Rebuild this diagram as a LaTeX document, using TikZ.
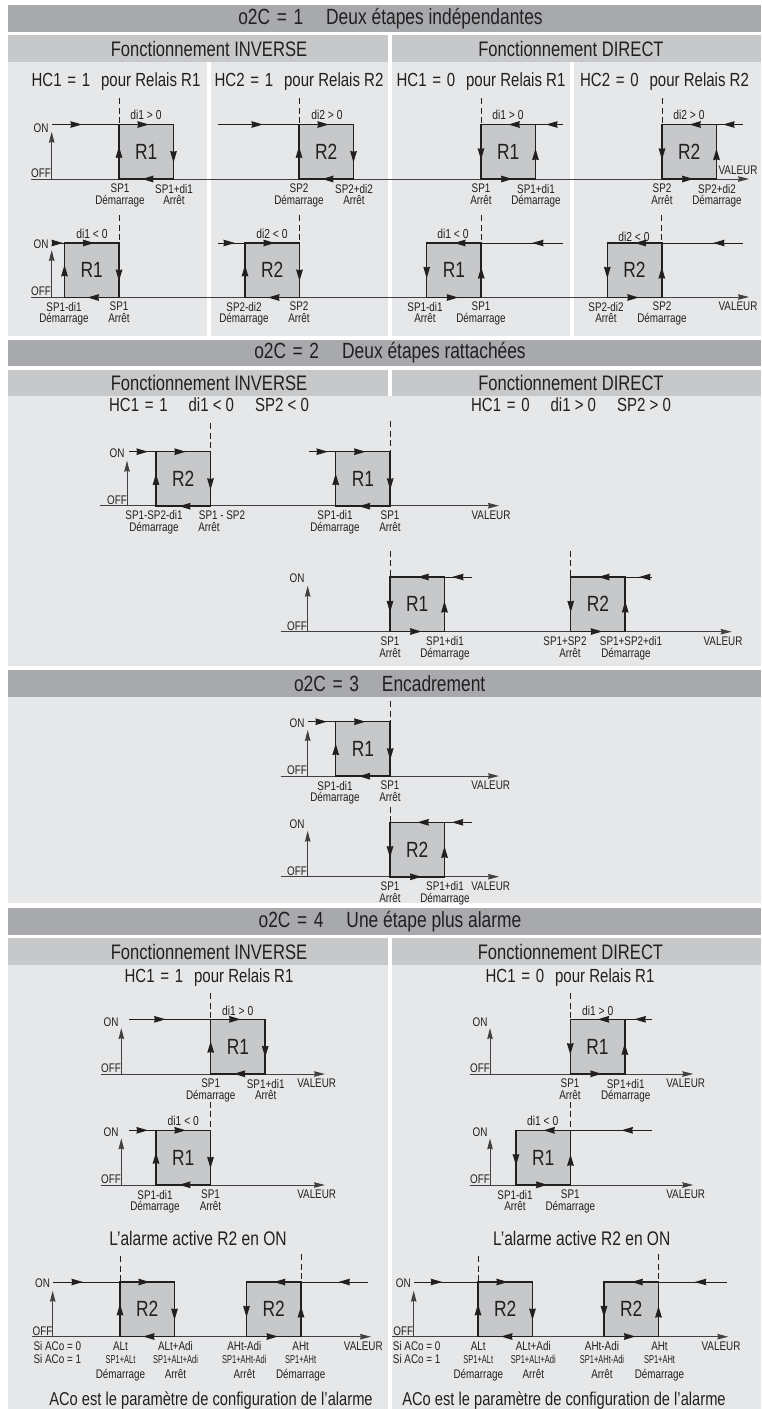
\documentclass[tikz,border=0pt]{standalone}
\usepackage{fontspec}
\setmainfont[FakeStretch=0.79]{Liberation Sans}
\newfontfamily\narrowfont[FakeStretch=0.65]{Liberation Sans}
\usetikzlibrary{arrows.meta,decorations.markings}
\definecolor{ink}{HTML}{231F20}
\definecolor{bandgrey}{HTML}{A7A9AC}
\definecolor{headgrey}{HTML}{C7C8CA}
\definecolor{panelgrey}{HTML}{E6E7E8}
\definecolor{axisgrey}{HTML}{414042}
\tikzset{
  band/.style={fill=bandgrey},
  head/.style={fill=headgrey},
  panel/.style={fill=panelgrey},
  titletext/.style={text=ink,inner sep=0pt,font=\fontsize{22}{24}\selectfont},
  bigtext/.style={text=ink,inner sep=0pt,font=\fontsize{21}{23}\selectfont},
  hctext/.style={text=ink,inner sep=0pt,font=\fontsize{19}{21}\selectfont},
  alarmtext/.style={text=ink,inner sep=0pt,font=\fontsize{19.7}{21}\selectfont},
  acotext/.style={text=ink,inner sep=0pt,font=\fontsize{18.6}{21}\selectfont},
  relay/.style={draw=ink,fill=headgrey,line width=1.5pt,minimum size=54.5pt,inner sep=0pt,outer sep=0pt,text=ink,font=\fontsize{22}{24}\selectfont},
  mid/.style={postaction={decorate,decoration={markings,mark=at position #1 with {\arrow{Stealth[length=11.5pt,width=6.5pt,inset=.6pt]}}}}},
  loopedge/.style={draw=ink,line width=1.5pt},
  leadin/.style={draw=ink,line width=1pt},
  guide/.style={draw=ink,line width=1pt,dash pattern=on 6pt off 3.5pt},
  axisline/.style={draw=axisgrey,line width=1pt,-{Stealth[length=11pt,width=5.5pt,inset=1pt]}},
  tick/.style={text=ink,anchor=north,align=center,inner sep=0pt,font=\fontsize{12.5}{11.7}\selectfont},
  tickb/.style={text=ink,anchor=base,inner sep=0pt,font=\fontsize{12.5}{11.7}\selectfont},
  ticksmall/.style={text=ink,anchor=base,inner sep=0pt,font=\narrowfont\fontsize{11.5}{11.7}\selectfont},
  dilabel/.style={text=ink,inner sep=0pt,font=\fontsize{13}{15}\selectfont},
}
\newcommand{\eqs}{\hspace{.3em}=\hspace{.3em}}
\newcommand{\onoff}[8]{%
  \coordinate (#1a) at (#2,#4);
  \coordinate (#1b) at (#3,#4);
  \draw[axisline] (#1a) -- (#1b);
  \coordinate (#1o) at (#5,#4);
  \coordinate (#1t) at (#5,#6);
  \draw[axisline] (#1o) -- (#1t);
  \node[tick,anchor=center] (#1on) at (#7,#8) {ON};
  \node[tick,anchor=center] (#1off) at (#7,#4-5.5) {OFF};
}
\newcommand{\relayinv}[8]{%
  \node[relay] (#1) at (#2+27.25,#3+27.25) {#4};
  \draw[loopedge,mid=.6] (#1.south west) -- (#1.north west);
  \draw[loopedge,mid=.55] (#1.north west) -- (#1.north east);
  \draw[loopedge,mid=.7] (#1.north east) -- (#1.south east);
  \draw[loopedge,mid=.58] (#1.south east) -- (#1.south west);
  \coordinate (#1in) at (#5,#3);
  \draw[leadin,mid=#6pt] (#1in) -- (#1.north west);
  \coordinate (#1y) at (0,#8);
  \coordinate (#1g) at (#1.#7 |- #1y);
  \draw[guide] (#1g) -- (#1.#7);
}
\newcommand{\relaydir}[8]{%
  \node[relay] (#1) at (#2+27.25,#3+27.25) {#4};
  \draw[loopedge,mid=.65] (#1.north west) -- (#1.south west);
  \draw[loopedge,mid=.58] (#1.south west) -- (#1.south east);
  \draw[loopedge,mid=.56] (#1.south east) -- (#1.north east);
  \draw[loopedge,mid=.5] (#1.north east) -- (#1.north west);
  \coordinate (#1in) at (#5,#3);
  \draw[leadin,mid=#6pt] (#1in) -- (#1.north east);
  \coordinate (#1y) at (0,#8);
  \coordinate (#1g) at (#1.#7 |- #1y);
  \draw[guide] (#1g) -- (#1.#7);
}
\newcommand{\alarmtick}[5]{%
  \node[tickb] (#1a) at (#2,1350) {#3};
  \node[ticksmall] (#1b) at (#2,1363.5) {#4};
  \node[tickb] (#1c) at (#2,1378) {#5};
}

\begin{document}
\begin{tikzpicture}[x=1pt,y=-1pt]
  \useasboundingbox (0,0) rectangle (761,1409);
  \fill[band] (8,5) rectangle (761,32);
  \fill[head] (8,35) rectangle (388,62);
  \fill[head] (392,35) rectangle (761,62);
  \fill[panel] (8,62) rectangle (207,336);
  \fill[panel] (211,62) rectangle (388,336);
  \fill[panel] (392,62) rectangle (570,336);
  \fill[panel] (574,62) rectangle (761,336);
  \fill[band] (8,340) rectangle (761,366);
  \fill[head] (8,370) rectangle (388,396);
  \fill[head] (392,370) rectangle (761,396);
  \fill[panel] (8,396) rectangle (761,666);
  \fill[band] (8,670) rectangle (761,697);
  \fill[panel] (8,697) rectangle (761,903);
  \fill[band] (8,908) rectangle (761,935);
  \fill[head] (8,938) rectangle (388,965);
  \fill[head] (392,938) rectangle (761,965);
  \fill[panel] (8,965) rectangle (388,1409);
  \fill[panel] (392,965) rectangle (761,1409);

  \node[titletext] (title1) at (390.5,19) {o2C\eqs 1\hspace{23pt}Deux étapes indépendantes};
  \node[bigtext] (inv1) at (209,49) {Fonctionnement INVERSE};
  \node[bigtext] (dir1) at (571,49) {Fonctionnement DIRECT};
  \node[hctext] (hca) at (116,81.5) {HC1\eqs 1\hspace{11pt}pour Relais R1};
  \node[hctext] (hcb) at (299,81.5) {HC2\eqs 1\hspace{11pt}pour Relais R2};
  \node[hctext] (hcc) at (481,81.5) {HC1\eqs 0\hspace{11pt}pour Relais R1};
  \node[hctext] (hcd) at (664.5,81.5) {HC2\eqs 0\hspace{11pt}pour Relais R2};

  \onoff{axa}{31}{749}{179}{51.7}{131.7}{41}{128}
  \relayinv{ra}{119}{124.5}{R1}{52}{30}{north west}{98}
  \relayinv{rb}{299}{124.5}{R2}{218}{45}{north west}{98}
  \relaydir{rc}{481}{124.5}{R1}{563}{17}{north west}{98}
  \relaydir{rd}{662}{124.5}{R2}{743}{20}{north west}{98}
  \node[dilabel] (da) at (146,115) {di1 > 0};
  \node[dilabel] (db) at (327,115) {di2 > 0};
  \node[dilabel] (dc) at (508,115) {di1 > 0};
  \node[dilabel] (dd) at (689,115) {di2 > 0};
  \node[tick] (ta1) at (120,184) {SP1\\Démarrage};
  \node[tick] (ta2) at (174,184) {SP1+di1\\Arrêt};
  \node[tick] (tb1) at (299,184) {SP2\\Démarrage};
  \node[tick] (tb2) at (354,184) {SP2+di2\\Arrêt};
  \node[tick] (tc1) at (481,184) {SP1\\Arrêt};
  \node[tick] (tc2) at (536,184) {SP1+di1\\Démarrage};
  \node[tick] (td1) at (662,184) {SP2\\Arrêt};
  \node[tick] (td2) at (717,184) {SP2+di2\\Démarrage};
  \node[tick] (va) at (738,165.5) {VALEUR};

  \onoff{axb}{31}{749}{297}{51.7}{250}{41}{244.5}
  \relayinv{re}{64.5}{243}{R1}{52}{11}{north east}{215}
  \relayinv{rf}{245}{243}{R2}{218}{17}{north east}{215}
  \relaydir{rg}{426.7}{243}{R1}{563}{31}{north east}{215}
  \relaydir{rh}{607.3}{243}{R2}{743}{30}{north east}{215}
  \node[dilabel] (de) at (92,234) {di1 < 0};
  \node[dilabel] (df) at (272,234) {di2 < 0};
  \node[dilabel] (dg) at (453,234) {di1 < 0};
  \node[dilabel] (dh) at (634,237) {di2 < 0};
  \node[tick] (te1) at (64,302) {SP1-di1\\Démarrage};
  \node[tick] (te2) at (119,302) {SP1\\Arrêt};
  \node[tick] (tf1) at (244,302) {SP2-di2\\Démarrage};
  \node[tick] (tf2) at (299,302) {SP2\\Arrêt};
  \node[tick] (tg1) at (425,302) {SP1-di1\\Arrêt};
  \node[tick] (tg2) at (481,302) {SP1\\Démarrage};
  \node[tick] (th1) at (606,302) {SP2-di2\\Arrêt};
  \node[tick] (th2) at (662,302) {SP2\\Démarrage};
  \node[tick] (vb) at (738,302) {VALEUR};

  \node[titletext] (title2) at (390,353) {o2C\eqs 2\hspace{23pt}Deux étapes rattachées};
  \node[bigtext] (inv2) at (209,383) {Fonctionnement INVERSE};
  \node[bigtext] (dir2) at (571,383) {Fonctionnement DIRECT};
  \node[hctext] (hce) at (209,405) {HC1\eqs 1\hspace{21pt}di1 < 0\hspace{21pt}SP2 < 0};
  \node[hctext] (hcf) at (571,405) {HC1\eqs 0\hspace{21pt}di1 > 0\hspace{21pt}SP2 > 0};

  \onoff{axc}{100}{499}{505.7}{127}{460.7}{117}{453}
  \relayinv{ri}{156}{451.7}{R2}{129}{19}{north east}{423}
  \relayinv{rj}{335.7}{451.7}{R1}{309}{19}{north east}{421}
  \node[tick] (ti1) at (154,510.7) {SP1-SP2-di1\\Démarrage};
  \node[tickb] (ti2) at (222,519.3) {SP1 - SP2};
  \node[tickb] (ti3) at (209,531) {Arrêt};
  \node[tick] (tj1) at (335,510.7) {SP1-di1\\Démarrage};
  \node[tick] (tj2) at (390,510.7) {SP1\\Arrêt};
  \node[tick] (vc) at (491,510.7) {VALEUR};

  \onoff{axd}{280.7}{731.7}{631.7}{307.7}{585.7}{297}{578}
  \relaydir{rk}{390}{577}{R1}{471.7}{19.7}{north west}{550.7}
  \relaydir{rl}{570.7}{577}{R2}{652}{13}{north west}{550.7}
  \node[tick] (tk1) at (390,636.7) {SP1\\Arrêt};
  \node[tick] (tk2) at (445,636.7) {SP1+di1\\Démarrage};
  \node[tickb] (tl1) at (565,645.3) {SP1+SP2};
  \node[tickb] (tl2) at (570,657) {Arrêt};
  \node[tickb] (tl3) at (631,645.3) {SP1+SP2+di1};
  \node[tickb] (tl4) at (626,657) {Démarrage};
  \node[tick] (vd) at (723,636.7) {VALEUR};

  \node[titletext] (title3) at (389.7,684) {o2C\eqs 3\hspace{23pt}Encadrement};

  \onoff{axe}{280.7}{499}{776}{307.7}{730}{297}{723}
  \relayinv{rm}{335.7}{721.7}{R1}{308}{19}{north east}{701}
  \node[tick] (tm1) at (335,781) {SP1-di1\\Démarrage};
  \node[tick] (tm2) at (390,781) {SP1\\Arrêt};
  \node[tick] (ve) at (490.7,781) {VALEUR};

  \onoff{axf}{280.7}{499}{876.7}{307.7}{830.7}{297}{824}
  \relaydir{rn}{390}{822.3}{R2}{471.7}{20}{north west}{806.7}
  \node[tick] (tn1) at (390,881.7) {SP1\\Arrêt};
  \node[tick] (tn2) at (445,881.7) {SP1+di1\\Démarrage};
  \node[tick] (vf) at (490.7,881.7) {VALEUR};

  \node[titletext] (title4) at (390,922) {o2C\eqs 4\hspace{23pt}Une étape plus alarme};
  \node[bigtext] (inv4) at (209,952) {Fonctionnement INVERSE};
  \node[bigtext] (dir4) at (570.5,952) {Fonctionnement DIRECT};
  \node[hctext] (hcg) at (209,978) {HC1\eqs 1\hspace{11pt}pour Relais R1};
  \node[hctext] (hch) at (570,978) {HC1\eqs 0\hspace{11pt}pour Relais R1};

  \onoff{axg}{101}{325}{1074}{121.3}{1028}{111}{1021.7}
  \relayinv{ro}{210.7}{1019.3}{R1}{129}{36.7}{north west}{993}
  \node[dilabel] (do) at (237.7,1010.7) {di1 > 0};
  \node[tick] (to1) at (210.7,1079) {SP1\\Démarrage};
  \node[tick] (to2) at (265.7,1079) {SP1+di1\\Arrêt};
  \node[tick] (vg) at (316.7,1079) {VALEUR};

  \onoff{axh}{101}{325}{1185}{121.3}{1138.3}{111}{1131.7}
  \relayinv{rp}{156}{1130.3}{R1}{129}{19}{north east}{1101.7}
  \node[dilabel] (dp) at (183.3,1120.7) {di1 < 0};
  \node[tick] (tp1) at (155,1190) {SP1-di1\\Démarrage};
  \node[tick] (tp2) at (210.5,1190) {SP1\\Arrêt};
  \node[tick] (vh) at (316.7,1190) {VALEUR};

  \onoff{axi}{469.7}{693.3}{1074}{490}{1028}{480}{1021.7}
  \relaydir{rq}{570.3}{1019.3}{R1}{652.3}{18}{north west}{993}
  \node[dilabel] (dq) at (597.7,1010.7) {di1 > 0};
  \node[tick] (tq1) at (570,1079) {SP1\\Arrêt};
  \node[tick] (tq2) at (625.7,1079) {SP1+di1\\Démarrage};
  \node[tick] (vi) at (685.7,1079) {VALEUR};

  \onoff{axj}{469.7}{693.3}{1185}{490}{1138.3}{480}{1131.7}
  \relaydir{rr}{516}{1130.3}{R1}{652.3}{31}{north east}{1101.7}
  \node[dilabel] (dr) at (542.7,1120.7) {di1 < 0};
  \node[tick] (tr1) at (515,1190) {SP1-di1\\Arrêt};
  \node[tick] (tr2) at (570.3,1190) {SP1\\Démarrage};
  \node[tick] (vj) at (685.7,1190) {VALEUR};

  \node[alarmtext] (ala) at (198,1238) {L’alarme active R2 en ON};
  \node[alarmtext] (alb) at (581.7,1238) {L’alarme active R2 en ON};

  \onoff{axk}{32.3}{371}{1336.7}{52.7}{1290.7}{42.5}{1283}
  \relayinv{rs}{120}{1282}{R2}{53}{30}{north west}{1256}
  \relaydir{rt}{246.5}{1282}{R2}{368.3}{30}{north east}{1254.3}
  \node[tickb] (sia) at (57.3,1350) {Si ACo = 0};
  \node[tickb] (sib) at (57.3,1363.5) {Si ACo = 1};
  \alarmtick{ts}{120.5}{ALt}{SP1+ALt}{Démarrage}
  \alarmtick{tt}{175.5}{ALt+Adi}{SP1+ALt+Adi}{Arrêt}
  \alarmtick{tu}{244.3}{AHt-Adi}{SP1+AHt-Adi}{Arrêt}
  \alarmtick{tv}{300.7}{AHt}{SP1+AHt}{Démarrage}
  \node[tickb] (vk) at (363.3,1350) {VALEUR};

  \onoff{axl}{391.7}{728.3}{1336.7}{413.7}{1290.7}{403.3}{1283}
  \relayinv{ru}{478}{1282}{R2}{414.3}{28}{north west}{1256}
  \relaydir{rv}{604}{1282}{R2}{726.7}{32}{north east}{1254.3}
  \node[tickb] (sic) at (416.7,1350) {Si ACo = 0};
  \node[tickb] (sid) at (416.7,1363.5) {Si ACo = 1};
  \alarmtick{tw}{478.3}{ALt}{SP1+ALt}{Démarrage}
  \alarmtick{tx}{533.3}{ALt+Adi}{SP1+ALt+Adi}{Arrêt}
  \alarmtick{ty}{602}{AHt-Adi}{SP1+AHt-Adi}{Arrêt}
  \alarmtick{tz}{659.5}{AHt}{SP1+AHt}{Démarrage}
  \node[tickb] (vl) at (721,1350) {VALEUR};

  \node[acotext] (acoa) at (211,1401) {ACo est le paramètre de configuration de l’alarme};
  \node[acotext] (acob) at (564,1401) {ACo est le paramètre de configuration de l’alarme};
\end{tikzpicture}
\end{document}
